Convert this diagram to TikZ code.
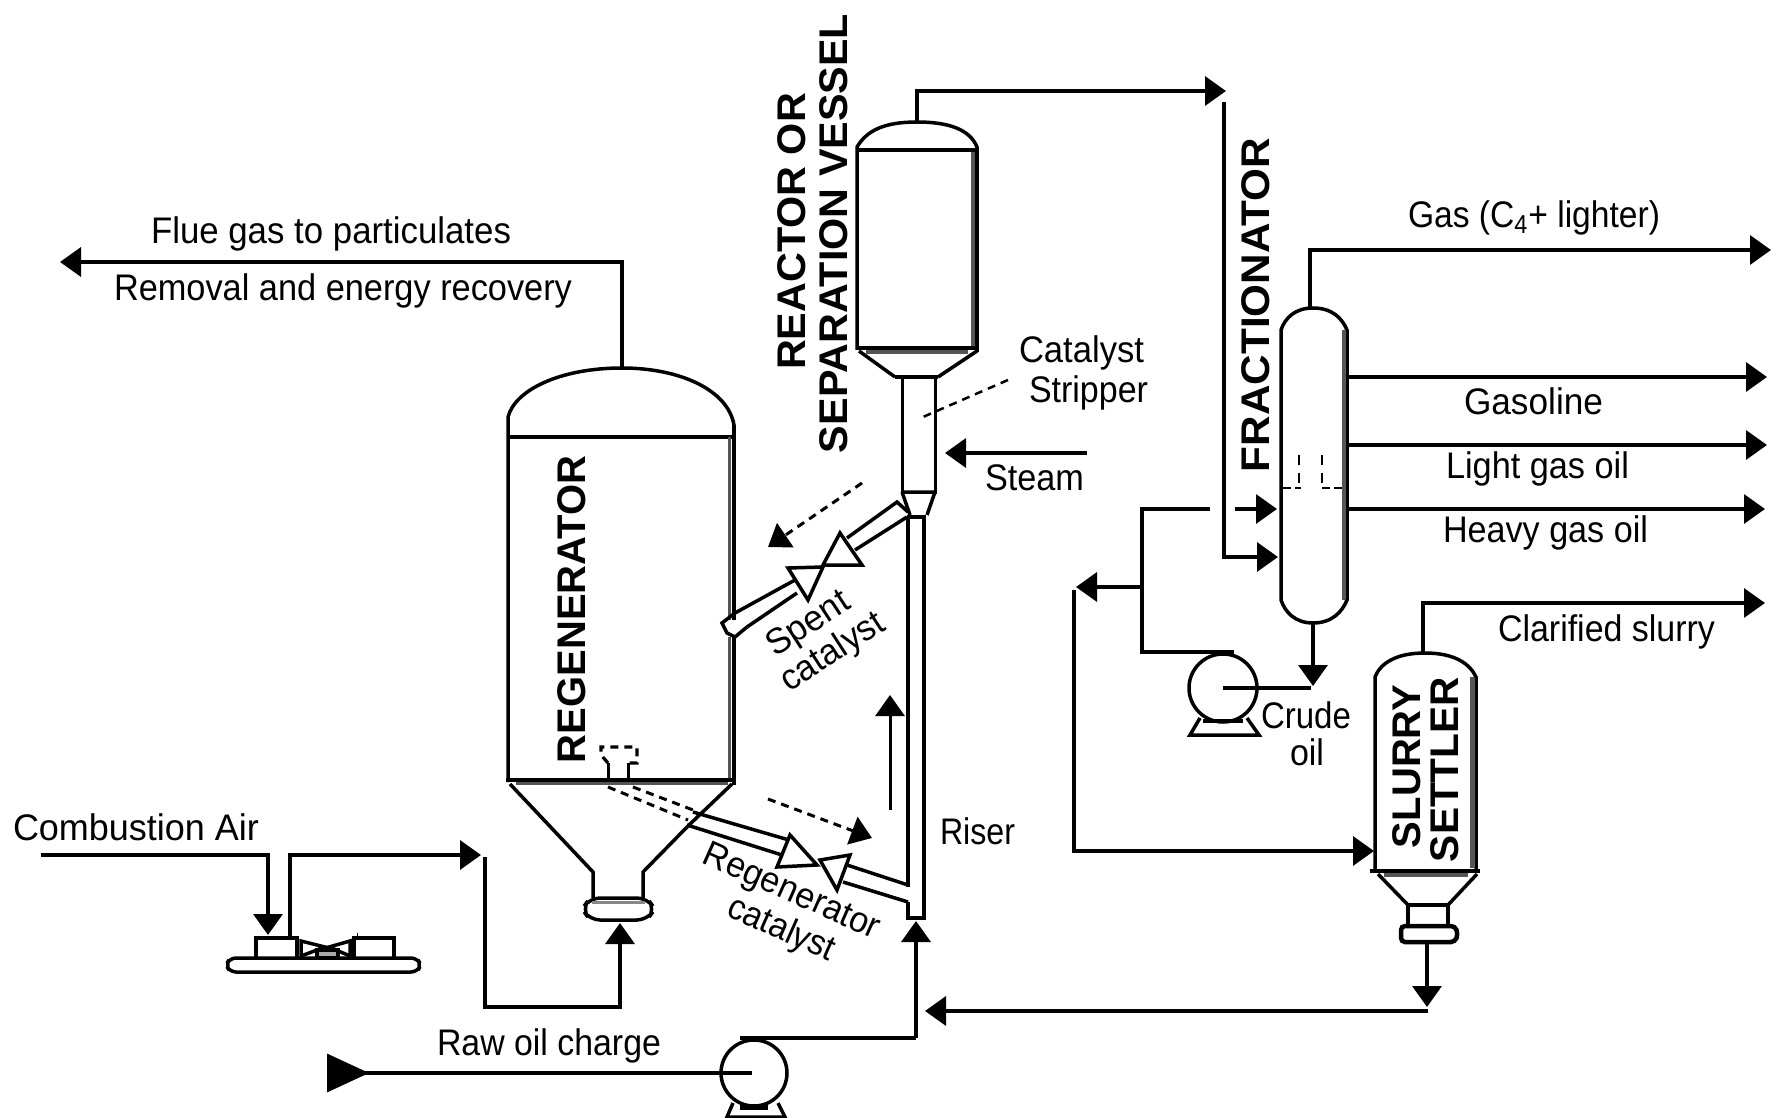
\documentclass[tikz,border=0pt]{standalone}
\usepackage{fontspec}
\usepackage{graphicx}
\setmainfont{Liberation Sans}
\usetikzlibrary{arrows.meta}
\newlength\tmpw
\newcommand\wbox[2]{\settowidth\tmpw{#2}\pgfmathsetmacro\myr{#1*0.5/\tmpw}\scalebox{\myr}[1]{#2}}
\definecolor{wallgrey}{HTML}{555555}
\tikzset{
  pipe/.style={line width=1.75pt,line join=miter},
  thin pipe/.style={line width=1.5pt},
  arr/.style={pipe,-{Triangle[length=10.5pt,width=14.5pt]}},
  dash pipe/.style={line width=1.5pt,dash pattern=on 4pt off 3pt},
  dash arr/.style={dash pipe,-{Triangle[length=10.5pt,width=14.5pt]}},
  greyband/.style={line width=1.75pt,wallgrey},
  lbl/.style={inner sep=0pt,outer sep=0pt,anchor=base west,font=\fontsize{18.5}{20}\selectfont},
  rlbl/.style={inner sep=0pt,outer sep=0pt,anchor=center,font=\fontsize{18}{20}\selectfont},
  blbl/.style={inner sep=0pt,outer sep=0pt,rotate=90,anchor=base west,font=\fontsize{20}{22}\selectfont\bfseries},
}
\begin{document}
\begin{tikzpicture}[x=0.5pt,y=-0.5pt]
\useasboundingbox (0,0) rectangle (1779,1118);
\fill[white] (0,0) rectangle (1779,1118);

% ---------- named connector ends
\coordinate (regTop) at (622,368);
\coordinate (flueCorner) at (622,262);
\coordinate (flueEnd) at (60,262);
\coordinate (airStart) at (41,855);
\coordinate (airCorner) at (268,855);
\coordinate (compIn) at (268,935);
\coordinate (compOut) at (290,938);
\coordinate (compOutCorner) at (290,855);
\coordinate (compOutEnd) at (481,855);
\coordinate (airRiseA) at (485,857);
\coordinate (airRiseB) at (485,1007);
\coordinate (airRiseC) at (620,1007);
\coordinate (flangeBot) at (620,923);
\coordinate (rawEnd) at (327,1073);
\coordinate (pumpBIn) at (752,1073);
\coordinate (pumpBTop) at (740,1038);
\coordinate (feedCorner) at (916,1038);
\coordinate (riserBot) at (916,921);
\coordinate (reacTop) at (917,122);
\coordinate (vapCorner) at (917,91);
\coordinate (vapEnd) at (1226,91);
\coordinate (vapDownA) at (1224,102);
\coordinate (vapDownB) at (1224,557);
\coordinate (fracIn) at (1278,557);
\coordinate (steamStart) at (1087,453);
\coordinate (steamEnd) at (945,453);
\coordinate (fracTop) at (1310,308);
\coordinate (gasCorner) at (1310,250);
\coordinate (gasEnd) at (1771,250);
\coordinate (gasoStart) at (1349,377);
\coordinate (gasoEnd) at (1767,377);
\coordinate (lightStart) at (1349,445);
\coordinate (lightEnd) at (1767,445);
\coordinate (heavyStart) at (1349,509);
\coordinate (heavyEnd) at (1765,509);
\coordinate (fracBot) at (1313,623);
\coordinate (fracBotEnd) at (1313,686);
\coordinate (pumpAC) at (1223,688);
\coordinate (pumpAOut) at (1311,688);
\coordinate (recA) at (1234,652);
\coordinate (recB) at (1142,652);
\coordinate (recC) at (1142,509);
\coordinate (recD) at (1210,509);
\coordinate (recE) at (1235,509);
\coordinate (recF) at (1277,509);
\coordinate (branch) at (1142,587);
\coordinate (branchEnd) at (1076,587);
\coordinate (setA) at (1074,590);
\coordinate (setB) at (1074,851);
\coordinate (setC) at (1374,851);
\coordinate (setTop) at (1423,653);
\coordinate (clarCorner) at (1423,603);
\coordinate (clarEnd) at (1765,603);
\coordinate (setBot) at (1427,943);
\coordinate (setBotEnd) at (1427,1007);
\coordinate (slurryA) at (1428,1011);
\coordinate (slurryEnd) at (925,1011);
\coordinate (leadA) at (1008,380);
\coordinate (leadB) at (923,417);

% ---------- regenerator
\draw[pipe] (508,782) -- (508,417) .. controls (515,390) and (560,368) .. (622,368)
  .. controls (680,368) and (728,390) .. (734,425) -- (734,437);
\draw[pipe] (508,437) -- (734,437);
\draw[pipe,line width=2pt] (734,425) -- (734,620);
\draw[pipe,line width=2pt] (734,637) -- (734,785);
\draw[greyband] (729.5,437) -- (729.5,620) (729.5,637) -- (729.5,780);
\draw[pipe] (506,780) -- (736,780);
\draw[greyband] (516,783.5) -- (728,783.5);
\draw[pipe] (510,784) -- (593,872) -- (593,898);
\draw[pipe] (732,784) -- (688,826) (688,826) -- (643,872) -- (643,898);
\draw[pipe,rounded corners=5pt] (590,898) -- (647,898) -- (655,909) -- (647,920) -- (590,920) -- (582,909) -- cycle;
\draw[line width=1.5pt,wallgrey!70] (592,902) -- (645,902);

% nozzle and dashed transfer lines
\draw[dash pipe,line width=1.6pt] (608,763) -- (601,755) -- (601,747) -- (637,747) -- (637,763) -- (628,763);
\draw[thin pipe] (608,763) -- (608,782) (628,763) -- (628,782);
\draw[dash pipe] (608,787) -- (688,820);
\draw[dash pipe] (633,787) -- (693,810);

% regenerated catalyst line
\draw[pipe] (693,812) -- (789,840);
\draw[pipe] (687,825) -- (782,855);
\draw[pipe,fill=white] (790,835) -- (777,867) -- (817,865) -- cycle;
\draw[pipe,fill=white] (820,860) -- (850,855) -- (837,890) -- cycle;
\draw[pipe] (847,865) -- (908,885);
\draw[pipe] (843,882) -- (908,902);

% spent catalyst line
\draw[pipe,line cap=round] (735,613) -- (795,580);
\draw[pipe] (747,627) -- (797,593);
\draw[pipe] (735,613) -- (722,623) -- (727,633) -- (735,637) -- (747,627);
\draw[pipe,fill=white] (788,568) -- (823,567) -- (808,600) -- cycle;
\draw[pipe,fill=white] (823,565) -- (862,565) -- (840,533) -- cycle;
\draw[pipe] (847,538) -- (897,502) -- (908,512);
\draw[pipe] (855,550) -- (907,517);

% ---------- reactor, stripper, riser
\draw[pipe] (857,350) -- (857,147) .. controls (867,130) and (885,122) .. (917,122)
  .. controls (950,122) and (970,130) .. (977,147) -- (977,350);
\draw[pipe] (857,150) -- (977,150);
\draw[greyband] (973,152) -- (973,348);
\draw[pipe,line width=2pt] (977,147) -- (977,352);
\draw[pipe] (857,348) -- (979,348);
\draw[greyband] (866,352) -- (968,352);
\draw[pipe] (859,351) -- (895,377);
\draw[pipe] (977,351) -- (938,377);
\draw[thin pipe] (902,377) rectangle (935,492);
\draw[pipe] (895,377) -- (938,377);
\draw[pipe] (902,492) -- (910,515) (935,492) -- (927,515) (902,492) -- (935,492);
\draw[pipe] (907,517) -- (926,517);
\draw[pipe] (908,517) -- (908,887);
\draw[pipe] (924,517) -- (924,918) -- (908,918) -- (908,902);

% flow direction arrows near the riser
\draw[dash arr] (862,483) -- (768,547);
\draw[dash arr] (768,799) -- (872,838);
\draw[arr,line width=1.5pt] (890,810) -- (890,695);
\draw[dash pipe,line width=1.25pt] (leadA) -- (leadB);

% ---------- fractionator
\draw[pipe] (1281,600) -- (1281,330) .. controls (1285,318) and (1295,308) .. (1313,308)
  .. controls (1332,308) and (1342,318) .. (1347,330) -- (1347,600)
  .. controls (1342,612) and (1332,623) .. (1313,623)
  .. controls (1295,623) and (1285,612) .. (1281,600) -- cycle;
\draw[greyband] (1343.5,330) -- (1343.5,600);
\draw[pipe,line width=1.25pt,dash pattern=on 4pt off 2pt] (1283,488) -- (1301,488) (1322,488) -- (1345,488);
\draw[pipe,line width=1.25pt,dash pattern=on 5pt off 4pt] (1299,455) -- (1299,488) (1322,455) -- (1322,488);

% ---------- slurry settler
\draw[pipe] (1375,871) -- (1375,677) .. controls (1380,664) and (1395,653) .. (1425,653)
  .. controls (1455,653) and (1470,664) .. (1476,677) -- (1476,871);
\draw[greyband] (1472,677) -- (1472,868);
\draw[pipe,line width=2pt] (1370,871) -- (1480,871);
\draw[greyband] (1384,875) -- (1468,875);
\draw[pipe] (1378,874) -- (1408,905);
\draw[pipe] (1477,874) -- (1448,905);
\draw[pipe] (1408,905) -- (1448,905);
\draw[pipe,line width=2pt] (1408,905) -- (1408,925) (1448,905) -- (1448,925);
\draw[pipe,line width=2.25pt,rounded corners=2pt] (1401,926) -- (1455,926) -- (1458,934) -- (1455,942) -- (1401,942) -- cycle;

% ---------- pumps
\draw[pipe] (pumpAC) circle[radius=34];
\draw[pipe] (1200,718) -- (1190,735) -- (1259,735) -- (1247,718);
\draw[pipe] (1203,721) -- (1243,721);
\draw[pipe] (754,1073) circle[radius=33];
\draw[pipe] (733,1103) -- (727,1117) -- (785,1117) -- (778,1103);
\draw[pipe,line width=3pt] (740,1107) -- (768,1107);

% ---------- compressor
\draw[pipe] (256,958) -- (256,938) -- (297,938) -- (297,958);
\draw[pipe] (354,958) -- (354,938) -- (394,938) -- (394,958);
\draw[pipe,rounded corners=3pt] (226,965) -- (230,958) -- (417,958) -- (421,965) -- (417,972) -- (230,972) -- cycle;
\draw[pipe] (301,941) -- (301,956) -- (325,947) -- cycle;
\draw[pipe] (350,941) -- (350,956) -- (329,947) -- cycle;
\draw[pipe,fill=wallgrey!50] (317,950) rectangle (338,958);
\draw[line width=0.5pt] (357,933) -- (357,938);

% ---------- connectors
\draw[arr] (regTop) -- (flueCorner) -- (flueEnd);
\draw[arr] (airStart) -- (airCorner) -- (compIn);
\draw[arr] (compOut) -- (compOutCorner) -- (compOutEnd);
\draw[arr] (airRiseA) -- (airRiseB) -- (airRiseC) -- (flangeBot);
\draw[pipe,-{Triangle[length=21pt,width=19pt,reversed]}] (pumpBIn) -- (rawEnd);
\draw[pipe] (pumpBTop) -- (feedCorner);
\draw[arr] (feedCorner) -- (riserBot);
\draw[arr] (reacTop) -- (vapCorner) -- (vapEnd);
\draw[arr] (vapDownA) -- (vapDownB) -- (fracIn);
\draw[arr] (steamStart) -- (steamEnd);
\draw[arr] (fracTop) -- (gasCorner) -- (gasEnd);
\draw[arr] (gasoStart) -- (gasoEnd);
\draw[arr] (lightStart) -- (lightEnd);
\draw[arr] (heavyStart) -- (heavyEnd);
\draw[arr] (fracBot) -- (fracBotEnd);
\draw[pipe] (pumpAC) -- (pumpAOut);
\draw[pipe] (recA) -- (recB) -- (recC) -- (recD);
\draw[arr] (recE) -- (recF);
\draw[arr] (branch) -- (branchEnd);
\draw[arr] (setA) -- (setB) -- (setC);
\draw[arr] (setTop) -- (clarCorner) -- (clarEnd);
\draw[arr] (setBot) -- (setBotEnd);
\draw[arr] (slurryA) -- (slurryEnd);

% ---------- labels
\node[lbl] (tFlue) at (151,244) {\wbox{360}{Flue gas to particulates}};
\node[lbl] (tRem) at (114,301) {\wbox{458}{Removal and energy recovery}};
\node[lbl] (tAir) at (13,840) {\wbox{246}{Combustion Air}};
\node[lbl] (tRaw) at (437,1055) {\wbox{224}{Raw oil charge}};
\node[lbl] (tRiser) at (940,844) {\wbox{75}{Riser}};
\node[lbl] (tCat) at (1019,363) {\wbox{125}{Catalyst}};
\node[lbl] (tStr) at (1029,402) {\wbox{119}{Stripper}};
\node[lbl] (tSteam) at (985,490) {\wbox{99}{Steam}};
\node[lbl] (tGas) at (1408,228) {\wbox{252}{Gas (C\textsubscript{4}+ lighter)}};
\node[lbl] (tGaso) at (1464,415) {\wbox{139}{Gasoline}};
\node[lbl] (tLight) at (1446,478) {\wbox{183}{Light gas oil}};
\node[lbl] (tHeavy) at (1443,542) {\wbox{205}{Heavy gas oil}};
\node[lbl] (tClar) at (1498,641) {\wbox{217}{Clarified slurry}};
\node[lbl] (tCrude) at (1261,728) {\wbox{90}{Crude}};
\node[lbl] (tOil) at (1290,765) {\wbox{34}{oil}};
\node[rlbl,rotate=33] (tSpent) at (809,625) {\wbox{92}{Spent}};
\node[rlbl,rotate=33] (tCat1) at (833,653) {\wbox{117}{catalyst}};
\node[rlbl,rotate=-24] (tReg) at (791,893) {\wbox{190}{Regenerator}};
\node[rlbl,rotate=-24] (tCat2) at (781,930) {\wbox{113}{catalyst}};
\node[blbl] (tRO) at (805,370) {\wbox{277}{REACTOR OR}};
\node[blbl] (tSV) at (847,453) {\wbox{439}{SEPARATION VESSEL}};
\node[blbl] (tFr) at (1269,472) {\wbox{334}{FRACTIONATOR}};
\node[blbl] (tRe) at (585,763) {\wbox{307}{REGENERATOR}};
\node[blbl] (tSl) at (1420,848) {\wbox{163}{SLURRY}};
\node[blbl] (tSe) at (1458,862) {\wbox{185}{SETTLER}};
\end{tikzpicture}
\end{document}
